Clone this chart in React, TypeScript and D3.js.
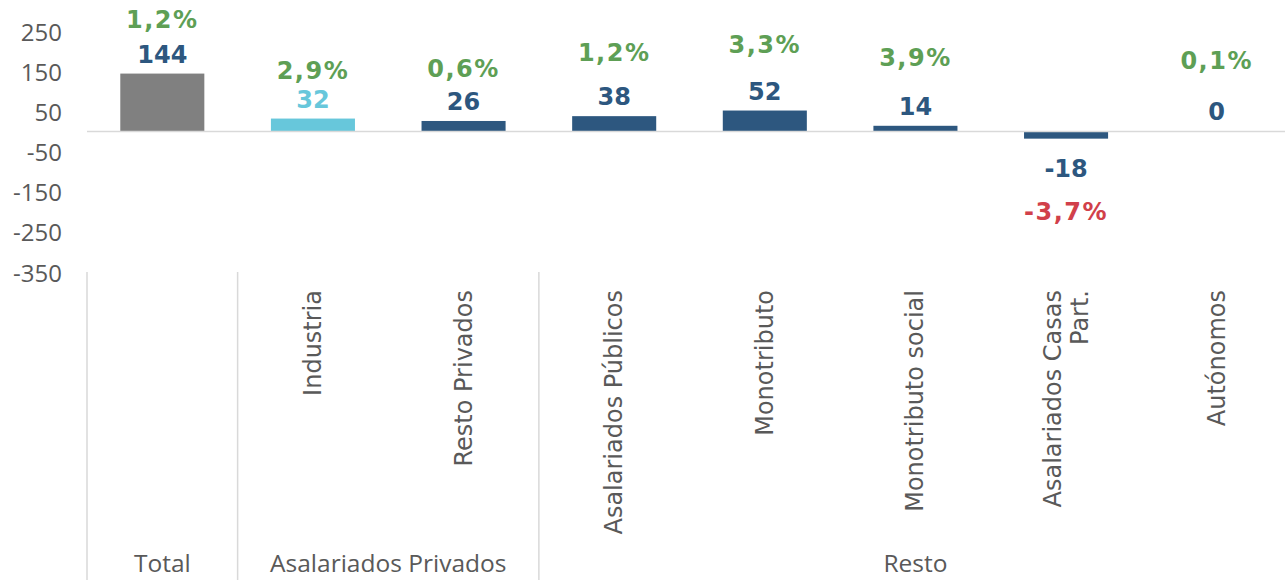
import React from "react";
import * as d3 from "d3";

const categories = ["Total", "Industria", "Resto Privados", "Asalariados Públicos", "Monotributo", "Monotributo social", "Asalariados Casas Part.", "Autónomos"];
const groups = ["Total", "Asalariados Privados", "Asalariados Privados", "Resto", "Resto", "Resto", "Resto", "Resto"];
const values = [144, 32, 26, 38, 52, 14, -18, 0];
const pctLabels = ["1,2%", "2,9%", "0,6%", "1,2%", "3,3%", "3,9%", "-3,7%", "0,1%"];
const pctChange = [1.2, 2.9, 0.6, 1.2, 3.3, 3.9, -3.7, 0.1];
// hidden series that holds the percentage labels (data units)
const pctLabelAt = [277, 150, 155, 195, 215, 182, -201, 175];
const labelLines: string[][] = [[], ["Industria"], ["Resto Privados"], ["Asalariados Públicos"], ["Monotributo"], ["Monotributo social"], ["Asalariados Casas", "Part."], ["Autónomos"]];
const yTicks = [250, 150, 50, -50, -150, -250, -350];

const W = 1285, H = 580;
const plotLeft = 87, plotRight = 1292;
const yTop = 31, yBottom = 272;

const DARK = "#2d577f", LIGHT = "#67c7db", GRAY = "#808080", GREEN = "#5e9f55", RED = "#d1404a";
const GRID = "#d9d9d9", TEXT = "#595959";
const VERDANA = "Verdana, 'DejaVu Sans', sans-serif";

export default function App() {
  const x = d3.scaleBand<number>().domain(d3.range(categories.length)).range([plotLeft, plotRight]).paddingInner(0.442).paddingOuter(0.221);
  const y = d3.scaleLinear().domain([-350, 250]).range([yBottom, yTop]);
  const step = x.step();
  const bandStart = (i: number) => plotLeft + i * step;
  const center = (i: number) => bandStart(i) + step / 2;
  const barColor = (i: number) => (i === 0 ? GRAY : i === 1 ? LIGHT : DARK);
  const valueColor = (i: number) => (i === 1 ? LIGHT : DARK);

  const groupSpans: { name: string; start: number; end: number }[] = [];
  groups.forEach((g, i) => {
    const last = groupSpans[groupSpans.length - 1];
    if (last && last.name === g) last.end = i;
    else groupSpans.push({ name: g, start: i, end: i });
  });
  const sepXs = [plotLeft, ...groupSpans.map((s) => bandStart(s.end + 1))];

  return (
    <svg width={W} height={H} style={{ position: "absolute", left: 0, top: 0, background: "#fff" }}>
      {yTicks.map((t) => (
        <text key={t} x={62} y={y(t)} textAnchor="end" dominantBaseline="central" fontFamily="'Open Sans', sans-serif" fontSize={24} fill={TEXT}>
          {t}
        </text>
      ))}
      {values.map((v, i) => (
        <rect key={i} x={x(i)} width={x.bandwidth()} y={y(Math.max(0, v))} height={Math.abs(y(v) - y(0))} fill={barColor(i)} />
      ))}
      <line x1={plotLeft} x2={plotRight} y1={y(0)} y2={y(0)} stroke={GRID} strokeWidth={1.5} />
      {values.map((v, i) => (
        <text key={i} x={center(i)} y={v >= 0 ? y(v) - 19 : y(v) + 30} textAnchor="middle" dominantBaseline="central" fontFamily={VERDANA} fontWeight="bold" fontSize={24} fill={valueColor(i)}>
          {v}
        </text>
      ))}
      {pctLabels.map((p, i) => (
        <text key={i} x={center(i)} y={y(pctLabelAt[i])} textAnchor="middle" dominantBaseline="central" fontFamily={VERDANA} fontWeight="bold" fontSize={24} letterSpacing={1.5} fill={pctChange[i] >= 0 ? GREEN : RED}>
          {p}
        </text>
      ))}
      {sepXs.map((sx, i) => (
        <line key={i} x1={sx} x2={sx} y1={yBottom} y2={H} stroke={GRID} strokeWidth={1.5} />
      ))}
      {labelLines.map((lines, i) =>
        lines.map((ln, j) => {
          const cx = center(i) + (j - (lines.length - 1) / 2) * 27;
          return (
            <text key={i + "-" + j} transform={`translate(${cx},290) rotate(-90)`} textAnchor="end" dominantBaseline="central" fontFamily={VERDANA} fontSize={24} fill={TEXT}>
              {ln}
            </text>
          );
        })
      )}
      {groupSpans.map((g, i) => (
        <text key={i} x={(bandStart(g.start) + bandStart(g.end + 1)) / 2} y={562} textAnchor="middle" dominantBaseline="central" fontFamily="'Open Sans', sans-serif" fontSize={24.5} fill={TEXT}>
          {g.name}
        </text>
      ))}
    </svg>
  );
}
